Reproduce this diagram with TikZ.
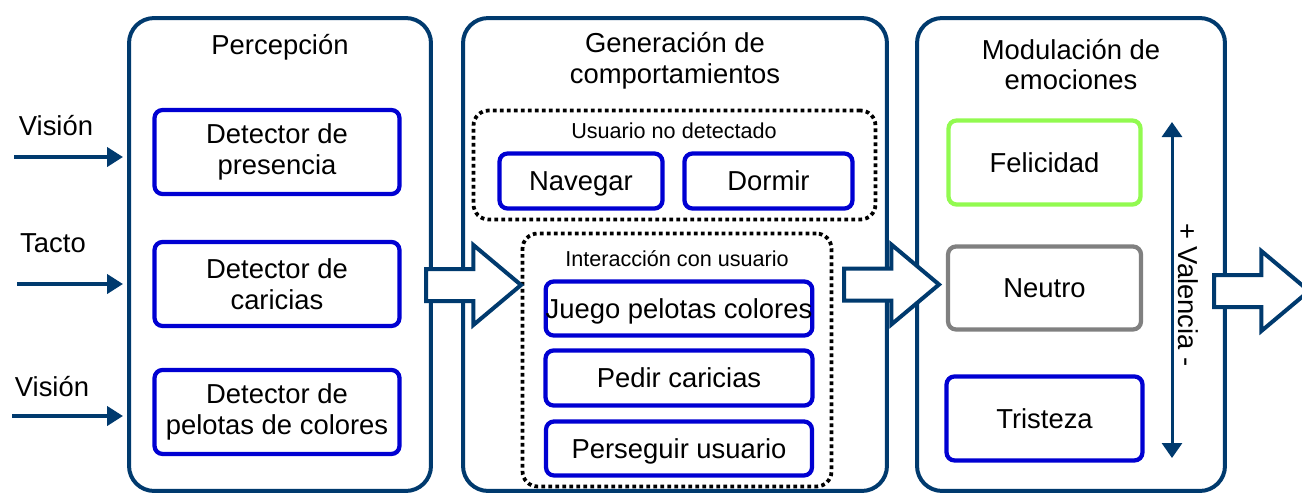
\documentclass[tikz,border=0pt]{standalone}
\usepackage{fontspec}
\setmainfont{Liberation Sans}
\usetikzlibrary{positioning, arrows.meta, shapes.arrows}
\definecolor{azul}{RGB}{0,58,110}
\definecolor{azulcaja}{RGB}{0,0,210}
\definecolor{verde}{RGB}{146,250,80}
\definecolor{gris}{RGB}{128,128,128}

\begin{document}
\begin{tikzpicture}[x=0.02cm,y=-0.02cm,node distance=2cm,on grid,
    every node/.style={font=\fontsize{15.6}{17.6}\selectfont,align=center},
    panel/.style={draw=azul,line width=0.08cm,rounded corners=0.5cm,
      minimum width=#1,minimum height=9.46cm},
    caja/.style={draw=#1,line width=0.085cm,rounded corners=0.16cm,
      minimum height=1.68cm,inner sep=0pt},
    unalinea/.style={text height=11.2pt,text depth=0pt},
    grupo/.style={draw,line width=0.075cm,dash pattern=on 0.075cm off 0.065cm,
      rounded corners=0.3cm},
    accion/.style={caja=azulcaja,unalinea,minimum height=1.1cm},
    pequeno/.style={font=\fontsize{12.3}{14.8}\selectfont},
    entrada/.style={draw=azul,line width=0.08cm,shorten >=0.08cm,
      -{Triangle[width=0.38cm,length=0.32cm]}},
    flecha/.style={single arrow,draw=azul,fill=white,line width=0.08cm,
      inner xsep=0pt,inner ysep=0.28cm,single arrow head extend=0.48cm,
      single arrow tip angle=80,minimum height=1.9cm}]
  \useasboundingbox (0,0) rectangle (1302,495);

  % bloques principales
  \node[panel=6.04cm] (percepcion) at (280,254.5) {};
  \node[panel=8.48cm] (generacion) at (675,254.5) {};
  \node[panel=6.16cm] (modulacion) at (1071,254.5) {};
  \node (tit_1) at (280,47) {Percepción};
  \node (tit_2) at (675,60.5) {Generación de\\comportamientos};
  \node (tit_3) at (1071,64.5) {Modulación de\\emociones};

  % percepcion
  \node[caja=azulcaja,minimum width=4.9cm] (det_1) at (277,152) {Detector de\\presencia};
  \node[caja=azulcaja,minimum width=4.9cm] (det_2) [below=2.64cm of det_1] {Detector de\\caricias};
  \node[caja=azulcaja,minimum width=4.9cm] (det_3) [below=2.56cm of det_2] {Detector de\\pelotas de colores};

  % entradas
  \node (vis_1) at (56,126) {Visión};
  \node (tacto) at (53,243) {Tacto};
  \node (vis_2) at (52,387) {Visión};
  \coordinate (in_1) at (14,157);
  \coordinate (in_2) at (17,284);
  \coordinate (in_3) at (12,416);
  \draw[entrada] (in_1) -- (in_1 -| percepcion.west);
  \draw[entrada] (in_2) -- (in_2 -| percepcion.west);
  \draw[entrada] (in_3) -- (in_3 -| percepcion.west);

  % generacion de comportamientos
  \node[grupo,minimum width=8.04cm,minimum height=2.18cm] (grupo_1) at (674.5,165) {};
  \node[pequeno] (tit_g1) at (674,131) {Usuario no detectado};
  \node[accion,minimum width=3.26cm] (navegar) at (581,181) {Navegar};
  \node[accion,minimum width=3.36cm] (dormir) [right=3.75cm of navegar] {Dormir};
  \node[grupo,minimum width=6.18cm,minimum height=5.06cm] (grupo_2) at (677,360) {};
  \node[pequeno] (tit_g2) at (677,259) {Interacción con usuario};
  \node[accion,minimum width=5.3cm,minimum height=1.08cm] (juego) at (679,308.5) {Juego pelotas colores};
  \node[accion,minimum width=5.34cm] (pedir) [below=1.39cm of juego] {Pedir caricias};
  \node[accion,minimum width=5.32cm,minimum height=1.08cm] (perseguir) [below=1.41cm of pedir] {Perseguir usuario};

  % modulacion de emociones
  \node[caja=verde,unalinea,minimum width=3.84cm] (felicidad) at (1044.5,162.5) {Felicidad};
  \node[caja=gris,unalinea,minimum width=3.86cm,minimum height=1.66cm] (neutro) [below=2.51cm of felicidad] {Neutro};
  \node[caja=azulcaja,unalinea,minimum width=3.92cm] (tristeza) [below=2.61cm of neutro] {Tristeza};
  \coordinate (val_a) at (1172,122);
  \coordinate (val_b) at (1172,458);
  \draw[azul,line width=0.06cm,{Triangle[width=0.4cm,length=0.3cm]}-{Triangle[width=0.4cm,length=0.3cm]}]
    (val_a) -- (val_b);
  \node[rotate=-90] (valencia) at (1188,295) {+ Valencia -};

  % flechas entre bloques
  \node[flecha] (flecha_1) at (464,285) {};
  \node[flecha] (flecha_2) at (882,284.5) {};
  \node[flecha] (flecha_3) at (1252,291) {};
\end{tikzpicture}
\end{document}
